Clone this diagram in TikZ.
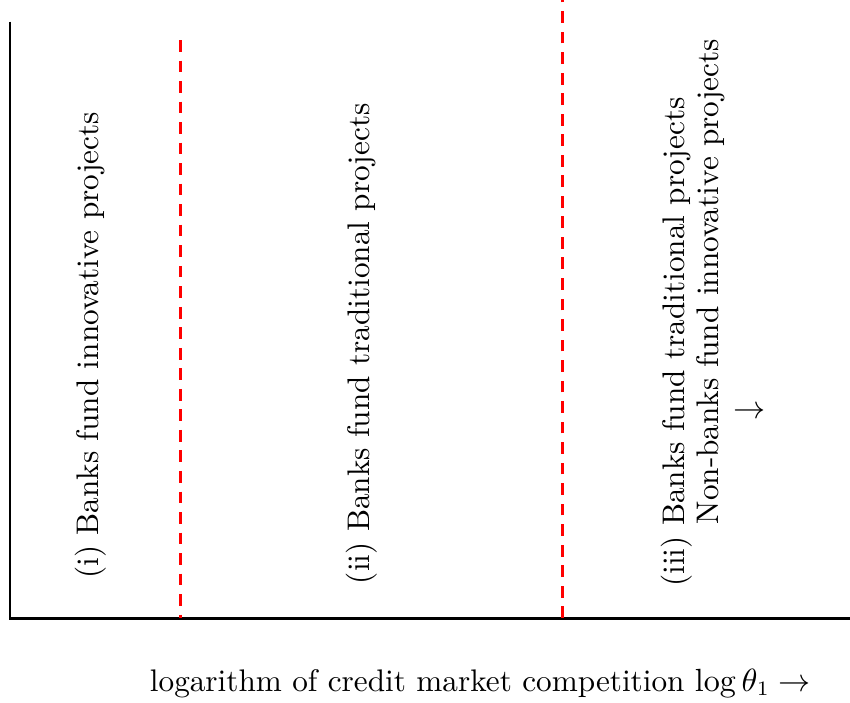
\documentclass[tikz,border=0pt]{standalone}
\usepackage{amsmath,amssymb}
\usetikzlibrary{calc,positioning}
\tikzset{every node/.style={font=\fontsize{10.65pt}{11.8pt}\selectfont},
  regime/.style={rotate=90},
  cutoff/.style={red,line width=1pt,dash pattern=on 4pt off 3pt}}
\begin{document}
\begin{tikzpicture}
		\useasboundingbox (-0.12,-1.007) rectangle (10.07,7.41);
		% axes
		\coordinate (O) at (0,0);
		\coordinate (ytop) at (0,7.15);
		\coordinate (xend) at (10.07,0);
		\draw[line width=1pt] (ytop) -- (O) -- (xend);
		% thresholds
		\coordinate (c1b) at (2.04,0);
		\coordinate (c1t) at (2.04,6.93);
		\coordinate (c2b) at (6.62,0);
		\coordinate (c2t) at (6.62,7.45);
		\draw[cutoff] (c1t) -- (c1b);
		\draw[cutoff] (c2b) -- (c2t);
		% regimes
		\node[regime] (regi) at (0.97,3.27) {(i) Banks fund innovative projects};
		\node[regime] (regii) at (4.22,3.29) {(ii) Banks fund traditional projects};
		\node[regime,align=left] (regiii) at (8.19,3.66) {(iii) Banks fund traditional projects\\\hspace*{2em}Non-banks fund innovative projects};
		\node (arr) at (8.86,2.46) {$\rightarrow$};
		\node (xlab) at (5.64,-0.78) {logarithm of credit market competition $\log\theta_1\rightarrow$};
	\end{tikzpicture}
\end{document}
